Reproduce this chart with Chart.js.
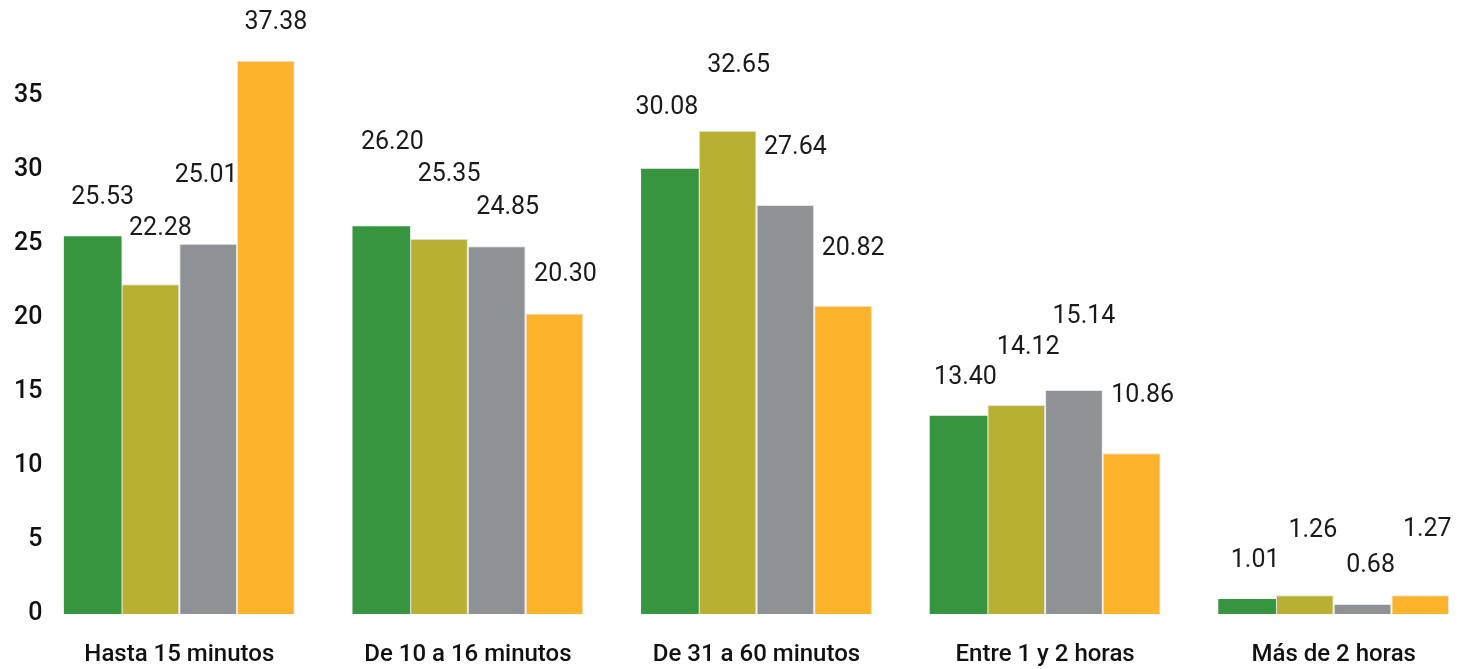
<!DOCTYPE html>
<html>
<head>
<meta charset="utf-8">
<script src="https://cdn.jsdelivr.net/npm/chart.js@4.4.0/dist/chart.umd.min.js"></script>
<style>
    html, body { margin: 0; padding: 0; background: #fff; overflow: hidden; }
    #wrap { position: relative; width: 1478px; height: 669px; }
</style>
</head>
<body>
<div id="wrap"><canvas id="chart"></canvas></div>
<script>
const categories = ['Hasta 15 minutos', 'De 10 a 16 minutos', 'De 31 a 60 minutos', 'Entre 1 y 2 horas', 'Más de 2 horas'];
const serieA = [25.53, 26.20, 30.08, 13.40, 1.01];
const serieB = [22.28, 25.35, 32.65, 14.12, 1.26];
const serieC = [25.01, 24.85, 27.64, 15.14, 0.68];
const serieD = [37.38, 20.30, 20.82, 10.86, 1.27];
const yTicks = [0, 5, 10, 15, 20, 25, 30, 35];

const colors = ['#37943f', '#b8b032', '#8f9294', '#fbb32b'];

// how far each value label sits above / beside its bar (px), per dataset and category
const labelLift = [
    [38, 83, 61, 38, 38],
    [56, 64, 65, 57, 65],
    [68, 38, 57, 73, 38],
    [38, 39, 57, 58, 65]
];
const labelShift = [
    [10, 11, -3, 7, 8],
    [10, 10, 11, 12, 8],
    [-2, 11, 10, 10, 8],
    [10, 11, 10, 11, 7]
];

const valueLabels = {
    id: 'valueLabels',
    afterDatasetsDraw(chart) {
        const ctx = chart.ctx;
        ctx.save();
        ctx.font = '400 25px Roboto';
        ctx.fillStyle = '#1a1a1a';
        ctx.textAlign = 'center';
        ctx.textBaseline = 'middle';
        chart.data.datasets.forEach((ds, i) => {
            chart.getDatasetMeta(i).data.forEach((bar, j) => {
                ctx.fillText(ds.data[j].toFixed(2), bar.x + labelShift[i][j], bar.y - labelLift[i][j]);
            });
        });
        ctx.restore();
    }
};

const series = [serieA, serieB, serieC, serieD];

new Chart(document.getElementById('chart'), {
    type: 'bar',
    data: {
        labels: categories,
        datasets: series.map((s, i) => ({
            label: 'Serie ' + (i + 1),
            data: s,
            backgroundColor: colors[i],
            borderColor: i === 0 ? colors[0] : '#e4e4e4',
            borderWidth: i === 0 ? 0 : 1,
            categoryPercentage: 0.8,
            barPercentage: 1.0
        }))
    },
    options: {
        responsive: true,
        maintainAspectRatio: false,
        animation: false,
        layout: { padding: { top: 22, right: 0, bottom: 0, left: 0 } },
        plugins: { legend: { display: false }, tooltip: { enabled: false } },
        scales: {
            x: {
                afterFit(scale) { scale.height = 55; },
                grid: { display: false, drawTicks: false },
                border: { display: false },
                ticks: { color: '#111', font: { family: 'Roboto', size: 24, weight: '500' }, padding: 27 }
            },
            y: {
                min: 0,
                max: 40,
                afterFit(scale) { scale.width = 35; },
                afterBuildTicks(scale) { scale.ticks = yTicks.map(v => ({ value: v })); },
                grid: { display: false, drawTicks: false },
                border: { display: false },
                ticks: {
                    color: '#111', font: { family: 'Roboto', size: 25, weight: '500' },
                    mirror: true, crossAlign: 'far', padding: -21
                }
            }
        }
    },
    plugins: [valueLabels]
});
</script>
</body>
</html>
